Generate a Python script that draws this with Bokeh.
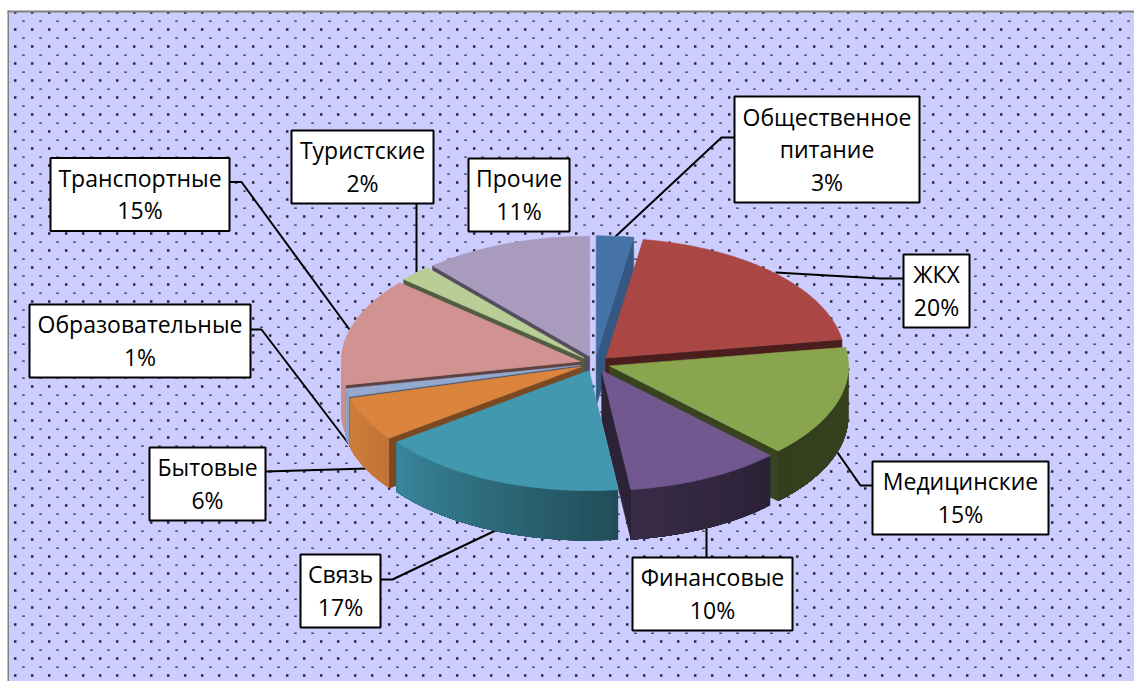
import numpy as np
from bokeh.core.properties import value
from bokeh.embed import file_html
from bokeh.models import Range1d
from bokeh.plotting import figure
from bokeh.resources import INLINE

# ---- data
categories = ["Общественное питание", "ЖКХ", "Медицинские", "Финансовые", "Связь",
              "Бытовые", "Образовательные", "Транспортные", "Туристские", "Прочие"]
percent_labels = [3, 20, 15, 10, 17, 6, 1, 15, 2, 11]
# unrounded shares
shares = [2.5, 20.0, 15.0, 10.5, 16.8, 5.9, 1.1, 14.5, 2.2, 11.4]

# ---- styles
colors = ["#4572A7", "#AA4643", "#89A54E", "#71588F", "#4198AF",
          "#DB843D", "#93A9CF", "#D19392", "#B9CD96", "#A99BBD"]
BG = "#CCCCFF"

# ---- layout (page pixels of the 1134x681 window)
label_lines = [["Общественное", "питание"], ["ЖКХ"], ["Медицинские"], ["Финансовые"], ["Связь"],
               ["Бытовые"], ["Образовательные"], ["Транспортные"], ["Туристские"], ["Прочие"]]
boxes = [(734, 919, 96, 202), (903, 969, 254, 327), (872, 1048, 461, 534), (632, 792, 557, 630),
         (300, 380, 554, 627), (149, 265, 447, 520), (29, 250, 304, 377), (50, 229, 157.5, 230.5),
         (291, 433, 130, 203), (468, 569, 158, 231)]
leaders = [[(734, 137), (721, 137), (615, 236)],
           [(903, 278), (880, 278), (775, 272)],
           [(872, 485), (860, 485), (837, 452)],
           [(706, 557), (706, 527)],
           [(380, 579), (392, 579), (495, 530)],
           [(265, 471), (367, 468)],
           [(250, 329), (261, 329), (348, 443)],
           [(229, 181.5), (241, 181.5), (349, 329)],
           [(416, 203), (416, 272)],
           []]
CX, CY, RX, RY, DEPTH, EXPLODE = 594.5, 363.0, 239.0, 120.0, 50.0, 0.064
DRAW_ORDER = [9, 8, 7, 6, 5, 0, 1, 2, 3, 4]
FACE_DARK = [0.78, 0.43, 0.41, 0.40, 0.5, 0.56, 0.5, 0.45, 0.45, 0.5]


def shade(hex_color, f):
    r, g, b = (int(hex_color[i:i + 2], 16) for i in (1, 3, 5))
    return "#%02x%02x%02x" % (int(r * f), int(g * f), int(b * f))


def wall_factor(deg):
    return float(np.interp(deg, [90, 134, 172, 233, 255, 270], [0.40, 0.38, 0.5, 0.88, 0.95, 1.0]))


edges = np.concatenate([[0.0], np.cumsum(shares)])
edges = edges / edges[-1] * 360.0

xs, ys, fills, edge_alpha = [], [], [], []


def add(px, py, color, outline=1.0):
    xs.append(list(px))
    ys.append(list(py))
    fills.append(color)
    edge_alpha.append(outline)


for i in DRAW_ORDER:
    a0, a1 = edges[i], edges[i + 1]
    mid = np.radians((a0 + a1) / 2)
    ax = CX + EXPLODE * RX * np.sin(mid)
    ay = CY - EXPLODE * RY * np.cos(mid)

    def pt(deg):
        t = np.radians(deg)
        return ax + RX * np.sin(t), ay - RY * np.cos(t)

    face = shade(colors[i], FACE_DARK[i])
    for deg, visible in ((a0, np.sin(np.radians(a0)) < 0), (a1, np.sin(np.radians(a1)) > 0)):
        if visible:
            ox, oy = pt(deg)
            add([ax, ox, ox, ax], [ay, oy, oy + DEPTH, ay + DEPTH], face)
    lo, hi = max(a0, 90.0), min(a1, 270.0)
    if hi > lo:
        steps = np.linspace(lo, hi, max(2, int((hi - lo) / 1.5) + 1))
        # each strip runs on to the slice's end, the next one covers it: no seams
        for d0, d1 in zip(steps[:-1], steps[1:]):
            arc = np.linspace(d0, hi, max(2, int((hi - d0) / 1.0) + 1))
            top_x, top_y = zip(*[pt(d) for d in arc])
            add(list(top_x) + list(top_x[::-1]),
                list(top_y) + [v + DEPTH for v in top_y[::-1]],
                shade(colors[i], wall_factor((d0 + d1) / 2)), 0.0)
    arc = np.linspace(a0, a1, max(2, int((a1 - a0) / 1.0) + 1))
    px, py = zip(*[pt(d) for d in arc])
    add([ax, *px], [ay, *py], colors[i])

p = figure(width=1134, height=681, x_range=Range1d(0, 1134), y_range=Range1d(681, 0),
           output_backend="svg", toolbar_location=None, min_border=0,
           x_axis_location=None, y_axis_location=None, background_fill_color="white",
           border_fill_color="white", outline_line_color=None)
p.grid.visible = False

# pattern-filled chart area and its grey frame
p.quad(left=8, right=1134, top=11, bottom=681, fill_color=BG, line_color=None)
gx, gy = np.meshgrid(np.arange(14.7, 1134, 17), np.arange(12, 681, 17))
p.rect(gx.ravel(), gy.ravel(), width=2.5, height=2.5, fill_color="#26263a", line_color=None)
hx, hy = np.meshgrid(np.arange(23, 1134, 17), np.arange(20.7, 681, 17))
p.rect(hx.ravel(), hy.ravel(), width=2.5, height=1.3, fill_color="#26263a", line_color=None)
p.quad(left=7, right=1134, top=10, bottom=12, fill_color="#808080", line_color=None)
p.quad(left=7, right=8.5, top=10, bottom=681, fill_color="#808080", line_color=None)

# leader lines lie under the pie
for leg in leaders:
    if leg:
        p.line([c[0] for c in leg], [c[1] for c in leg], line_color="black", line_width=2)

p.patches(xs, ys, fill_color=fills, line_color=fills, line_alpha=edge_alpha, line_width=0.6)

# data labels
for (l, r, t, b), lines, pct in zip(boxes, label_lines, percent_labels):
    p.quad(left=l, right=r, top=t, bottom=b, fill_color="white", line_color="black", line_width=2)
    rows = lines + [f"{pct}%"]
    pitch = 32.5
    mid_y = (t + b) / 2 - 0.5
    yy = [mid_y + (k - (len(rows) - 1) / 2) * pitch for k in range(len(rows))]
    p.text([(l + r) / 2] * len(rows), yy, text=rows, text_align="center", text_baseline="middle",
           text_font=value("Open Sans"), text_font_size="23px", text_color="black")

open("out.html", "w").write(file_html(p, INLINE))
